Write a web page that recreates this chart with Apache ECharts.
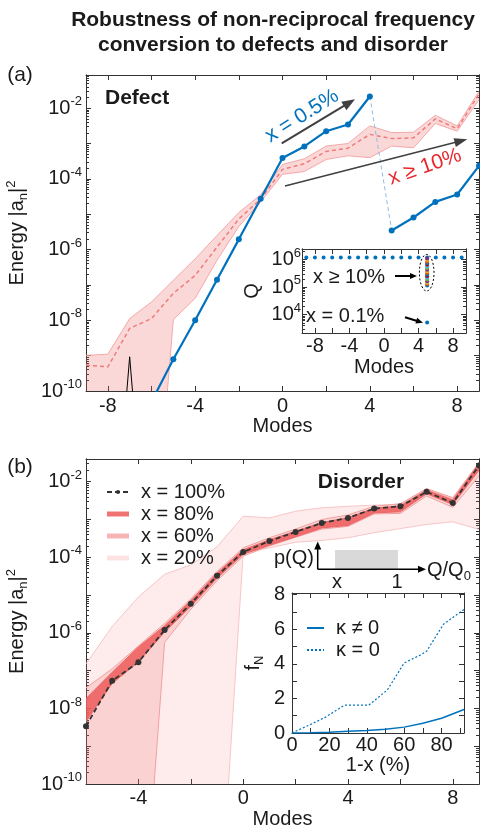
<!DOCTYPE html>
<html>
<head>
<meta charset="utf-8">
<script src="https://cdn.jsdelivr.net/npm/echarts@6/dist/echarts.min.js"></script>
<style>
html, body { margin: 0; padding: 0; background: #fff; }
#chart { width: 480px; height: 836px; }
</style>
</head>
<body>
<div id="chart"></div>
<script>
var FONT = 'Liberation Sans, Arial, Helvetica, sans-serif';
var TXT = '#1a1a1a';
var AXC = '#333';
var BLUE = '#0072BD';
var RED = '#e8262d';
var MATLAB_COLORS = ['#0072BD', '#D95319', '#EDB120', '#7E2F8E', '#77AC30', '#4DBEEE', '#A2142F'];

// ---- panel (a): defect ----
var defectModes = [-9, -8, -7, -6, -5, -4, -3, -2, -1, 0, 1, 2, 3, 4, 5, 6, 7, 8, 9];
var defectMean = [5.4e-10, 4.8e-10, 5.9e-9, 1.12e-8, 5.8e-8, 1.86e-7, 1.17e-6, 7.4e-6, 2.69e-5, 1.86e-4, 2.69e-4, 6.0e-4, 7.4e-4, 1.82e-3, 1.38e-3, 1.45e-3, 5.0e-3, 2.63e-3, 2.51e-2];
var defectUpper = [1.02e-9, 1.1e-9, 1.12e-8, 3.3e-8, 1.35e-7, 5.5e-7, 2.5e-6, 1.12e-5, 3.55e-5, 2.57e-4, 3.7e-4, 8.5e-4, 1.0e-3, 3.16e-3, 2.04e-3, 2.09e-3, 6.3e-3, 3.16e-3, 3.0e-2];
var defectLower = [1e-15, 1e-15, 1e-15, 4e-16, 1.05e-8, 4.2e-8, 5.0e-7, 4.5e-6, 2.24e-5, 1.35e-4, 1.62e-4, 3.55e-4, 4.5e-4, 4.0e-4, 8.5e-4, 7.6e-4, 3.7e-3, 2.24e-3, 1.74e-2];
var blueModes = [-6, -5, -4, -3, -2, -1, 0, 1, 2, 3, 4, 5, 6, 7, 8, 9];
var blueEnergy = [5.0e-11, 7.9e-10, 1.0e-8, 1.41e-7, 1.95e-6, 2.75e-5, 3.89e-4, 8.3e-4, 2.24e-3, 3.47e-3, 2.14e-2, 3.47e-6, 8.1e-6, 2.24e-5, 3.63e-5, 2.34e-4];
var spikeModes = [-8, -7, -6];
var spikeEnergy = [3e-17, 9.3e-10, 3e-17];

var aXTicks = [-8, -6, -4, -2, 0, 2, 4, 6, 8];
var aXLabels = [-8, -4, 0, 4, 8];
var aYTicks = [1e-10, 1e-9, 1e-8, 1e-7, 1e-6, 1e-5, 1e-4, 1e-3, 1e-2];
var aYLabels = [1e-10, 1e-8, 1e-6, 1e-4, 1e-2];

// ---- inset (a): Q per mode ----
var qModes = [-9, -8, -7, -6, -5, -4, -3, -2, -1, 0, 1, 2, 3, 4, 5, 6, 7, 8, 9];
var qClean = [1.2e6, 1.2e6, 1.2e6, 1.2e6, 1.2e6, 1.2e6, 1.2e6, 1.2e6, 1.2e6, 1.2e6, 1.2e6, 1.2e6, 1.2e6, 1.2e6, 1.2e6, 1.2e6, 1.2e6, 1.2e6, 1.2e6];
var qDefectMode = 5;
var qDefect = [1.15e5, 1.3e5, 1.45e5, 1.65e5, 1.9e5, 2.2e5, 2.5e5, 2.9e5, 3.3e5, 3.8e5, 4.3e5, 5.0e5, 5.7e5, 6.5e5, 7.4e5, 8.5e5, 9.7e5, 1.1e6];
var qLow = 5.2e3;
var insAXTicks = [-8, -6, -4, -2, 0, 2, 4, 6, 8];
var insAXLabels = [-8, -4, 0, 4, 8];
var insAYTicks = [1e4, 1e5, 1e6];
var insAYLabels = [1e4, 1e5, 1e6];

// ---- panel (b): disorder ----
var disorderModes = [-6, -5, -4, -3, -2, -1, 0, 1, 2, 3, 4, 5, 6, 7, 8, 9];
var x100 = [3.4e-9, 5.4e-8, 1.66e-7, 1.2e-6, 5.9e-6, 3.24e-5, 1.38e-4, 2.69e-4, 4.7e-4, 8.1e-4, 1.1e-3, 1.95e-3, 2.24e-3, 5.4e-3, 2.75e-3, 2.69e-2];
var x80Upper = [1.82e-8, 9.1e-8, 4.2e-7, 1.55e-6, 7.1e-6, 3.8e-5, 1.58e-4, 2.9e-4, 4.9e-4, 8.3e-4, 1.12e-3, 2.0e-3, 2.3e-3, 6.0e-3, 3.3e-3, 3.0e-2];
var x80Lower = [4.5e-9, 4.6e-8, 1.7e-7, 1.05e-6, 5.0e-6, 2.8e-5, 1.2e-4, 2.1e-4, 3.5e-4, 6.0e-4, 7.0e-4, 1.5e-3, 1.6e-3, 4.8e-3, 2.5e-3, 2.0e-2];
var x60Upper = [3.5e-8, 1.12e-7, 4.5e-7, 1.78e-6, 7.9e-6, 4.2e-5, 1.78e-4, 3.3e-4, 5.6e-4, 1.0e-3, 1.32e-3, 2.24e-3, 2.63e-3, 6.6e-3, 3.8e-3, 3.16e-2];
var x60Lower = [1e-15, 1e-15, 2.5e-16, 5.6e-7, 4.2e-6, 2.4e-5, 1.07e-4, 2.0e-4, 3.4e-4, 5.6e-4, 6.6e-4, 1.41e-3, 1.45e-3, 4.2e-3, 2.1e-3, 1.41e-2];
var x20Upper = [1.51e-7, 1.48e-6, 8.9e-6, 3.55e-5, 6.3e-5, 1.9e-4, 1.23e-3, 1.1e-3, 1.66e-3, 2.04e-3, 2.24e-3, 2.4e-3, 2.5e-3, 6.3e-3, 3.55e-3, 3.3e-2];
var x20Lower = [1e-15, 1e-15, 1e-15, 1e-15, 1e-15, 1.8e-15, 1.3e-4, 1.78e-4, 2.5e-4, 2.8e-4, 3.3e-4, 4.5e-4, 5.75e-4, 7.4e-4, 8.7e-4, 5.5e-4];
var bXTicks = [-6, -4, -2, 0, 2, 4, 6, 8];
var bXLabels = [-4, 0, 4, 8];
var bYTicks = [1e-10, 1e-9, 1e-8, 1e-7, 1e-6, 1e-5, 1e-4, 1e-3, 1e-2];
var bYLabels = [1e-10, 1e-8, 1e-6, 1e-4, 1e-2];

// ---- inset (b): f_N vs 1-x ----
var kappaX = [0, 10, 20, 30, 40, 50, 60, 70, 80, 92];
var fNkappa = [0, 0.02, 0.05, 0.1, 0.15, 0.22, 0.34, 0.56, 0.85, 1.36];
var zeroX = [0, 10, 18, 28, 32, 41, 51, 60, 69, 72, 81, 92];
var fNzero = [0, 0.5, 0.92, 1.61, 1.61, 1.61, 2.49, 4.05, 4.53, 4.73, 6.29, 7.15];
var insBXTicks = [0, 10, 20, 30, 40, 50, 60, 70, 80, 90];
var insBXLabels = [0, 20, 40, 60, 80];
var insBYTicks = [0, 1, 2, 3, 4, 5, 6, 7, 8];
var insBYLabels = [0, 2, 4, 6, 8];

function pairs(xs, ys) {
	return xs.map(function (x, i) { return [x, ys[i]]; });
}

var tickLine = { color: AXC, width: 1 };
var LOG_RICH = {
	b: { fontSize: 20, fontFamily: FONT, color: TXT },
	s: { fontSize: 13, fontFamily: FONT, color: TXT, padding: [0, 0, 13, 0] }
};
var NAME_RICH = {
	a: { fontSize: 20, fontFamily: FONT, color: TXT },
	sub: { fontSize: 13, fontFamily: FONT, color: TXT, padding: [12, 0, 0, 0] },
	sup: { fontSize: 13, fontFamily: FONT, color: TXT, padding: [0, 0, 13, 0] }
};
function logLabel(v) {
	var e = Math.round(Math.log10(v));
	return '{b|10}{s|' + e + '}';
}

function xPair(grid, min, max, ticks, labels, name, gap, margin, z) {
	var common = {
		type: 'value', gridIndex: grid, min: min, max: max, z: z,
		splitLine: { show: false },
		axisLine: { show: true, onZero: false, lineStyle: tickLine }
	};
	var bottom = Object.assign({}, common, {
		position: 'bottom', name: name, nameLocation: 'middle', nameGap: gap,
		nameTextStyle: { fontSize: 20, fontFamily: FONT, color: TXT },
		axisTick: { show: true, inside: true, length: 5, customValues: ticks, lineStyle: tickLine },
		axisLabel: { customValues: labels, margin: margin, fontSize: 20, fontFamily: FONT, color: TXT }
	});
	var top = Object.assign({}, common, {
		position: 'top',
		axisTick: { show: true, inside: true, length: 5, customValues: ticks, lineStyle: tickLine },
		axisLabel: { show: false }
	});
	return [bottom, top];
}

function minorTicks(min, max) {
	var out = [];
	for (var k = Math.floor(Math.log10(min)); k <= Math.ceil(Math.log10(max)); k++) {
		for (var m = 2; m <= 9; m++) {
			var v = m * Math.pow(10, k);
			if (v > min && v < max) out.push(v);
		}
	}
	return out;
}

function logYSet(grid, min, max, majors, labels, name, gap, margin, z) {
	var minors = minorTicks(min, max);
	var common = {
		type: 'log', logBase: 10, gridIndex: grid, min: min, max: max, z: z,
		splitLine: { show: false }, minorTick: { show: false },
		axisLine: { show: true, onZero: false, lineStyle: tickLine }
	};
	return [
		Object.assign({}, common, {
			position: 'left', name: name, nameLocation: 'middle', nameGap: gap, nameRotate: 90,
			nameTextStyle: { fontSize: 20, fontFamily: FONT, color: TXT, rich: NAME_RICH },
			axisTick: { show: true, inside: true, length: 5, customValues: majors, lineStyle: tickLine },
			axisLabel: { customValues: labels, margin: margin, formatter: logLabel, rich: LOG_RICH, fontSize: 20, fontFamily: FONT, color: TXT }
		}),
		Object.assign({}, common, {
			position: 'left',
			axisTick: { show: true, inside: true, length: 3, customValues: minors, lineStyle: tickLine },
			axisLabel: { show: false }
		}),
		Object.assign({}, common, {
			position: 'right',
			axisTick: { show: true, inside: true, length: 5, customValues: majors, lineStyle: tickLine },
			axisLabel: { show: false }
		}),
		Object.assign({}, common, {
			position: 'right',
			axisTick: { show: true, inside: true, length: 3, customValues: minors, lineStyle: tickLine },
			axisLabel: { show: false }
		})
	];
}

function linYPair(grid, min, max, ticks, labels, name, gap, margin, z) {
	var common = {
		type: 'value', gridIndex: grid, min: min, max: max, z: z,
		splitLine: { show: false },
		axisLine: { show: true, onZero: false, lineStyle: tickLine }
	};
	return [
		Object.assign({}, common, {
			position: 'left', name: name, nameLocation: 'middle', nameGap: gap, nameRotate: 90,
			nameTextStyle: { fontSize: 20, fontFamily: FONT, color: TXT, rich: NAME_RICH },
			axisTick: { show: true, inside: true, length: 5, customValues: ticks, lineStyle: tickLine },
			axisLabel: { customValues: labels, margin: margin, fontSize: 20, fontFamily: FONT, color: TXT }
		}),
		Object.assign({}, common, {
			position: 'right',
			axisTick: { show: true, inside: true, length: 5, customValues: ticks, lineStyle: tickLine },
			axisLabel: { show: false }
		})
	];
}

function bandSeries(name, xi, yi, modes, upper, lower, fill, stroke, z) {
	return {
		type: 'custom', name: name, xAxisIndex: xi, yAxisIndex: yi, clip: true, z: z, silent: true,
		itemStyle: { color: stroke },
		data: [[modes[0], upper[0]]],
		renderItem: function (params, api) {
			var up = [], lo = [];
			for (var i = 0; i < modes.length; i++) {
				up.push(api.coord([modes[i], upper[i]]));
				lo.push(api.coord([modes[i], lower[i]]));
			}
			return {
				type: 'group',
				children: [
					{ type: 'polygon', shape: { points: up.concat(lo.slice().reverse()) }, style: { fill: fill } },
					{ type: 'polyline', shape: { points: up }, style: { fill: null, stroke: stroke, lineWidth: 1 } },
					{ type: 'polyline', shape: { points: lo }, style: { fill: null, stroke: stroke, lineWidth: 1 } }
				]
			};
		}
	};
}

function txt(text, x, y, opt) {
	opt = opt || {};
	var align = opt.align || 'center';
	return {
		type: 'text', x: x, y: y, z: opt.z || 20,
		rotation: (opt.rot || 0) * Math.PI / 180,
		style: {
			text: text, fill: opt.color || TXT, fontSize: opt.size || 20, fontFamily: FONT,
			fontWeight: opt.bold ? 'bold' : 'normal',
			align: align, verticalAlign: 'middle', textAlign: align, textVerticalAlign: 'middle',
			rich: opt.rich
		}
	};
}

function arrow(x1, y1, x2, y2, color, lw, hl, hw, z) {
	var dx = x2 - x1, dy = y2 - y1;
	var len = Math.sqrt(dx * dx + dy * dy);
	var ux = dx / len, uy = dy / len;
	var bx = x2 - ux * hl, by = y2 - uy * hl;
	return [
		{ type: 'line', z: z, shape: { x1: x1, y1: y1, x2: bx + ux * 1, y2: by + uy * 1 }, style: { stroke: color, lineWidth: lw } },
		{ type: 'polygon', z: z, shape: { points: [[x2, y2], [bx - uy * hw / 2, by + ux * hw / 2], [bx + uy * hw / 2, by - ux * hw / 2]] }, style: { fill: color } }
	];
}

var xAxes = []
	.concat(xPair(0, -9, 9, aXTicks, aXLabels, 'Modes', 25, 5, 0))
	.concat(xPair(1, -9.5, 9.5, insAXTicks, insAXLabels, 'Modes', 24, 3, 6))
	.concat(xPair(2, -6, 9, bXTicks, bXLabels, 'Modes', 25, 4, 0))
	.concat(xPair(3, 0, 92, insBXTicks, insBXLabels, '1-x (%)', 20, 2, 6));

var yAxes = []
	.concat(logYSet(0, 1e-10, 0.087, aYTicks, aYLabels, '{a|Energy |a}{sub|n}{a||}{sup|2}', 52, 4, 0))
	.concat(logYSet(1, 2140, 2.45e6, insAYTicks, insAYLabels, 'Q', 40, 1, 6))
	.concat(logYSet(2, 1e-10, 0.04, bYTicks, bYLabels, '{a|Energy |a}{sub|n}{a||}{sup|2}', 52, 4, 0))
	.concat(linYPair(3, 0, 8.1, insBYTicks, insBYLabels, '{a|f}{sub|N}', 26, 7, 6));

var series = [
	// panel (a)
	bandSeries('defect band', 0, 0, defectModes, defectUpper, defectLower, 'rgba(240,100,100,0.25)', '#f5a8a8', 2),
	{
		type: 'line', xAxisIndex: 0, yAxisIndex: 0, z: 3, symbol: 'none', silent: true,
		data: pairs(defectModes, defectMean),
		lineStyle: { color: '#f07b7b', width: 1.5, type: [4, 3] }
	},
	{
		type: 'line', xAxisIndex: 0, yAxisIndex: 0, z: 3, symbol: 'none', silent: true,
		data: pairs(spikeModes, spikeEnergy),
		lineStyle: { color: '#000', width: 1 }
	},
	{
		type: 'line', xAxisIndex: 0, yAxisIndex: 0, z: 4, symbol: 'none', silent: true,
		data: pairs(blueModes.slice(10, 12), blueEnergy.slice(10, 12)),
		lineStyle: { color: '#8cbde6', width: 1, type: [4, 3] }
	},
	{
		type: 'line', xAxisIndex: 0, yAxisIndex: 0, z: 5, symbol: 'circle', symbolSize: 6, silent: true,
		data: pairs(blueModes.slice(0, 11), blueEnergy.slice(0, 11)),
		lineStyle: { color: BLUE, width: 2.2 }, itemStyle: { color: BLUE }
	},
	{
		type: 'line', xAxisIndex: 0, yAxisIndex: 0, z: 5, symbol: 'circle', symbolSize: 6, silent: true,
		data: pairs(blueModes.slice(11), blueEnergy.slice(11)),
		lineStyle: { color: BLUE, width: 2.2 }, itemStyle: { color: BLUE }
	},
	// inset (a)
	{
		type: 'scatter', xAxisIndex: 2, yAxisIndex: 4, z: 7, symbolSize: 4, silent: true,
		data: pairs(qModes, qClean), itemStyle: { color: BLUE, opacity: 1 }
	},
	{
		type: 'scatter', xAxisIndex: 2, yAxisIndex: 4, z: 8, symbolSize: 4, silent: true,
		data: qDefect.map(function (q) { return [qDefectMode, q]; }),
		itemStyle: { opacity: 1, color: function (p) { return MATLAB_COLORS[p.dataIndex % MATLAB_COLORS.length]; } }
	},
	{
		type: 'scatter', xAxisIndex: 2, yAxisIndex: 4, z: 8, symbolSize: 4, silent: true,
		data: [[qDefectMode, qLow]], itemStyle: { color: BLUE, opacity: 1 }
	},
	// panel (b)
	bandSeries('x = 20%', 4, 8, disorderModes, x20Upper, x20Lower, 'rgba(245,120,120,0.15)', '#f8c6c6', 2),
	bandSeries('x = 60%', 4, 8, disorderModes, x60Upper, x60Lower, 'rgba(240,110,110,0.2)', '#f2a0a0', 2),
	bandSeries('x = 80%', 4, 8, disorderModes, x80Upper, x80Lower, 'rgba(236,92,92,0.85)', '#ec6666', 3),
	{
		type: 'line', name: 'x = 100%', xAxisIndex: 4, yAxisIndex: 8, z: 5, symbol: 'circle', symbolSize: 6, silent: true,
		data: pairs(disorderModes, x100),
		lineStyle: { color: '#333', width: 1.8, type: [5, 3] }, itemStyle: { color: '#333' }
	},
	// inset (b)
	{
		type: 'line', name: 'κ ≠ 0', xAxisIndex: 6, yAxisIndex: 12, z: 7, symbol: 'none', silent: true,
		data: pairs(kappaX, fNkappa),
		lineStyle: { color: BLUE, width: 1.5 }, itemStyle: { color: BLUE }
	},
	{
		type: 'line', name: 'κ = 0', xAxisIndex: 6, yAxisIndex: 12, z: 7, symbol: 'none', silent: true,
		data: pairs(zeroX, fNzero),
		lineStyle: { color: BLUE, width: 1.2, type: [2, 2] }, itemStyle: { color: BLUE }
	}
];

var legendText = { fontSize: 20, fontFamily: FONT, color: TXT, lineHeight: 20, padding: [0, 0, 0, 7] };

var graphics = []
	.concat([
		txt('Robustness of non-reciprocal frequency', 273, 20, { bold: true, size: 21 }),
		txt('conversion to defects and disorder', 273, 45, { bold: true, size: 21 }),
		txt('(a)', 20, 75, { size: 21 }),
		txt('(b)', 20, 467, { size: 21 }),
		txt('Defect', 105, 98, { bold: true, size: 21, align: 'left' }),
		txt('Disorder', 361, 482, { bold: true, size: 21 }),
		txt('x = 0.5%', 302, 116, { size: 21, color: BLUE, rot: 32 }),
		txt('x ≥ 10%', 425, 167, { size: 21, color: RED, rot: 19 }),
		// inset (a) notes
		txt('x ≥ 10%', 313, 277, { size: 20, align: 'left', z: 20 }),
		txt('x = 0.1%', 306, 316, { size: 20, align: 'left', z: 20 }),
		{ type: 'ellipse', z: 20, shape: { cx: 426.7, cy: 272.7, rx: 7.3, ry: 18.3 }, style: { fill: null, stroke: '#000', lineWidth: 1, lineDash: [2, 2] } },
		// p(Q) schematic
		{ type: 'rect', z: 20, shape: { x: 335, y: 550, width: 63, height: 19 }, style: { fill: '#d9d9d9' } },
		txt('p(Q)', 314, 558, { size: 20, align: 'right' }),
		txt('x', 337, 582, { size: 20 }),
		txt('1', 397, 582, { size: 20 }),
		txt('{a|Q/Q}{s|0}', 427, 570, { size: 20, align: 'left', rich: {
			a: { fontSize: 20, fontFamily: FONT, color: TXT },
			s: { fontSize: 13, fontFamily: FONT, color: TXT, padding: [12, 0, 0, 0] }
		} })
	])
	.concat(arrow(281.7, 143.3, 355, 99.3, '#404040', 2, 13, 10, 20))
	.concat(arrow(285, 186, 467.3, 139.3, '#404040', 1.5, 13, 9, 20))
	.concat(arrow(395, 276, 417, 276, '#000', 2, 7, 6, 20))
	.concat(arrow(405, 317.3, 423, 322.7, '#000', 2, 7, 6, 20))
	.concat(arrow(317.7, 569.3, 317.7, 541.5, '#000', 1.5, 8, 7, 20))
	.concat(arrow(317.7, 569.3, 426, 569.3, '#000', 1.5, 8, 7, 20));

var myChart = echarts.init(document.getElementById('chart'));
var option = {
	animation: false,
	backgroundColor: '#fff',
	textStyle: { fontFamily: FONT },
	grid: [
		{ left: 86, top: 75, width: 393, height: 316, outerBoundsMode: 'none' },
		{ left: 302, top: 249, width: 164, height: 84, show: true, backgroundColor: '#fff', borderWidth: 0, z: 5, outerBoundsMode: 'none' },
		{ left: 86, top: 459, width: 393, height: 325, outerBoundsMode: 'none' },
		{ left: 292, top: 593, width: 172, height: 140, show: true, backgroundColor: '#fff', borderWidth: 0, z: 5, outerBoundsMode: 'none' }
	],
	xAxis: xAxes,
	yAxis: yAxes,
	legend: [
		{
			left: 106, top: 482, orient: 'vertical', itemWidth: 22, itemHeight: 5, itemGap: 2, padding: 0,
			selectedMode: false, z: 12, textStyle: legendText,
			data: [
				{ name: 'x = 100%' },
				{ name: 'x = 80%', icon: 'rect', itemStyle: { color: '#f07272' } },
				{ name: 'x = 60%', icon: 'rect', itemStyle: { color: '#f6b4b4' } },
				{ name: 'x = 20%', icon: 'rect', itemStyle: { color: '#fce2e2' } }
			]
		},
		{
			left: 306, top: 618, orient: 'vertical', itemWidth: 17, itemHeight: 5, itemGap: 2, padding: 0,
			selectedMode: false, z: 12, textStyle: legendText,
			data: [
				{ name: 'κ ≠ 0', itemStyle: { opacity: 0 } },
				{ name: 'κ = 0', itemStyle: { opacity: 0 } }
			]
		}
	],
	graphic: { elements: graphics },
	series: series
};
myChart.setOption(option);
</script>
</body>
</html>
